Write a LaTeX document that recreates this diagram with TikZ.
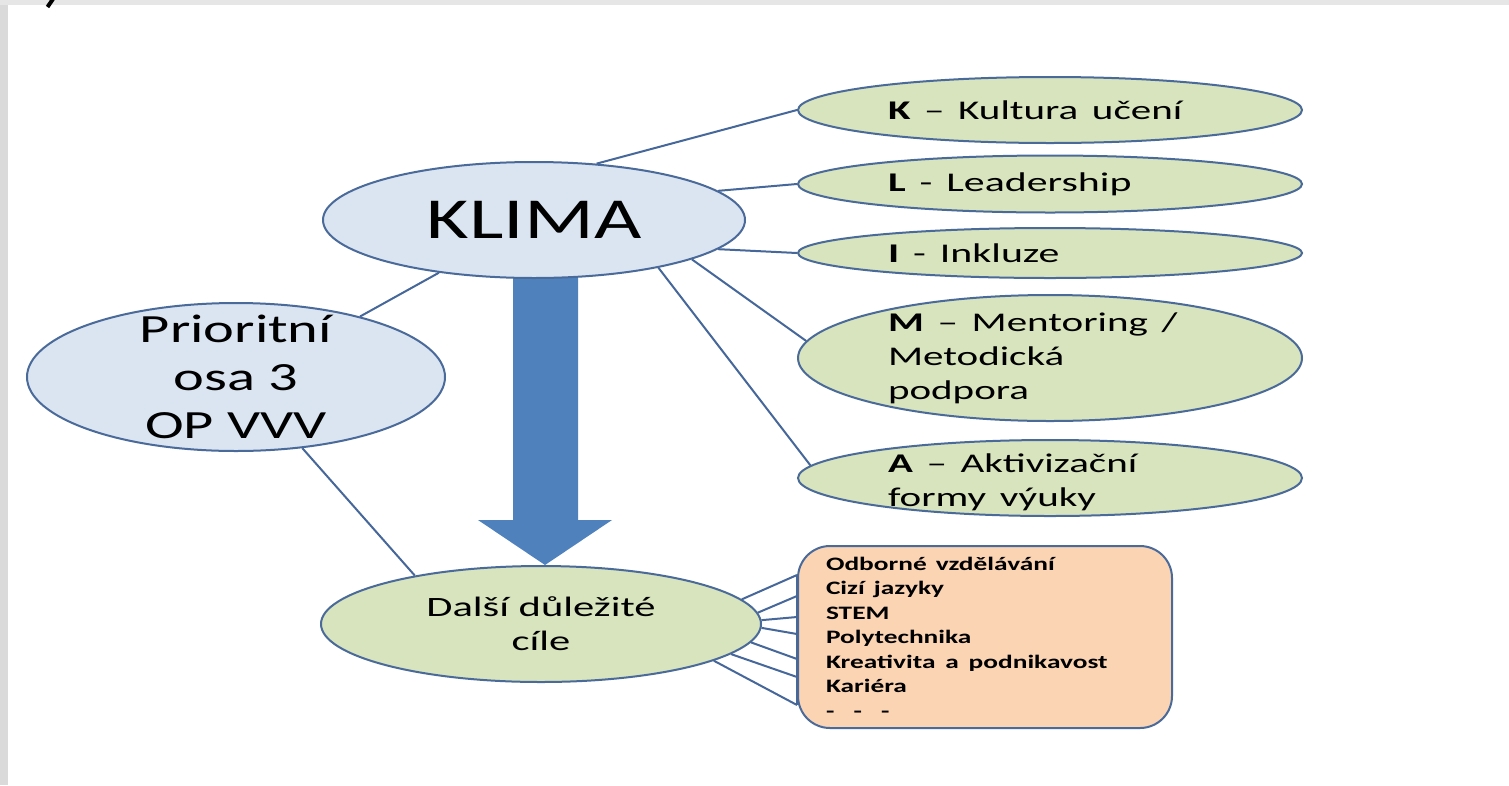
\documentclass[tikz,border=0pt]{standalone}
\usepackage{graphicx}
\usepackage{fontspec}
\setmainfont{Carlito}
\usetikzlibrary{shapes.geometric}
\definecolor{lineblue}{HTML}{46679A}
\definecolor{edgeblue}{HTML}{4A6A9A}
\definecolor{lightblue}{HTML}{DBE5F1}
\definecolor{lightgreen}{HTML}{D7E4BD}
\definecolor{peach}{HTML}{FBD4B4}
\definecolor{arrowblue}{HTML}{4F81BD}
\definecolor{frameA}{HTML}{DADADA}
\definecolor{frameB}{HTML}{E6E6E6}
\newcommand{\sx}[2]{\scalebox{#1}[1]{#2}}
\pgfdeclarelayer{bg}
\pgfsetlayers{bg,main}
\begin{document}
\begin{tikzpicture}[x=1pt,y=-1pt,
  ell/.style={ellipse, draw=edgeblue, line width=2pt, inner sep=0pt},
  blueell/.style={ell, fill=lightblue},
  greenell/.style={ell, fill=lightgreen, minimum width=504pt},
  conn/.style={draw=lineblue, line width=2pt},
  rtext/.style={text width=324pt, align=left, inner sep=0pt, font=\fontsize{27}{34}\selectfont},
  ctext/.style={align=center, inner sep=0pt},
  boxnode/.style={draw=edgeblue, line width=2pt, fill=peach, rounded corners=32pt,
    minimum width=374pt, minimum height=182pt, inner sep=0pt, text width=318pt, align=left,
    font=\bfseries\fontsize{19}{24.5}\selectfont}
  ]
\useasboundingbox (0,0) rectangle (1509,785);

% ellipses
\node[blueell, minimum width=422pt, minimum height=116pt] (klima) at (534,220) {};
\node[blueell, minimum width=418pt, minimum height=148pt] (po) at (236,377) {};
\node[greenell, minimum width=440pt, minimum height=116pt] (d) at (541,624) {};
\node[greenell, minimum height=66pt] (k) at (1050,110) {};
\node[greenell, minimum height=57pt] (l) at (1050,184) {};
\node[greenell, minimum height=50pt] (i) at (1050,253) {};
\node[greenell, minimum height=126pt] (m) at (1050,358) {};
\node[greenell, minimum height=76pt] (a) at (1050,478) {};

% texts
\node[ctext, font=\fontsize{58}{70}\selectfont] (klimat) at (klima.center) {\sx{1.41}{KLIMA}};
\node[ctext, font=\fontsize{40}{48}\selectfont] (pot) at (po.center)
  {\sx{1.46}{Prioritní}\\\sx{1.46}{osa 3}\\\sx{1.46}{OP VVV}};
\node[ctext, font=\fontsize{28}{34}\selectfont] (dt) at (d.center)
  {\sx{1.52}{Další důležité}\\\sx{1.52}{cíle}};
\node[rtext] (kt) at (k.center) {\sx{1.52}{\textbf{K} – Kultura učení}};
\node[rtext] (lt) at (l.center) {\sx{1.55}{\textbf{L} - Leadership}};
\node[rtext] (it) at (i.center) {\sx{1.55}{\textbf{I} - Inkluze}};
\node[rtext] (mt) at (m.center)
  {\sx{1.52}{\textbf{M} – Mentoring /}\\\sx{1.52}{Metodická}\\\sx{1.52}{podpora}};
\node[rtext, yshift=-4pt] (at) at (a.center)
  {\sx{1.52}{\textbf{A} – Aktivizační}\\\sx{1.52}{formy výuky}};

% box
\node[boxnode] (box) at (985,637)
  {\sx{1.44}{Odborné vzdělávání}\\
   \sx{1.44}{Cizí jazyky}\\
   \sx{1.44}{STEM}\\
   \sx{1.44}{Polytechnika}\\
   \sx{1.44}{Kreativita\hspace{0.36em}a\hspace{0.36em}podnikavost}\\
   \sx{1.44}{Kariéra}\\
   \sx{1.44}{-\hspace{0.7em}-\hspace{0.7em}-}};

% background, frame and arrow
\begin{pgfonlayer}{bg}
\fill[white] (0,0) rectangle (1509,785);
\fill[frameA] (0,0) rectangle (8,785);
\fill[frameB] (0,0) rectangle (1509,5);
\draw[black, line width=4pt] (47.5,7) -- (53,-1);
\fill[arrowblue] (513,260) -- (578,260) -- (578,520) -- (612,520) -- (545,565)
  -- (478,520) -- (513,520) -- cycle;
\end{pgfonlayer}

% connectors
\draw[conn] (klima.42) -- (k.west);
\draw[conn] (klima.9) -- (l.west);
\draw[conn] (klima.-9) -- (i.west);
\draw[conn] (klima.-14.7) -- (m.176);
\draw[conn] (klima.-21.6) -- (a.177);
\draw[conn] (klima.209) -- (po.26.6);
\draw[conn] (po.-47.9) -- (d.159.4);

\coordinate (b1) at (797,575);
\coordinate (b2) at (797,596);
\coordinate (b3) at (797,617);
\coordinate (b4) at (797,634);
\coordinate (b5) at (797,659);
\coordinate (b6) at (797,677);
\coordinate (b7) at (797,705);
\draw[conn] (b1) -- (b7);
\draw[conn] (d.7.4) -- (b1);
\draw[conn] (d.3.7) -- (b2);
\draw[conn] (d.1) -- (b3);
\draw[conn] (d.-1) -- (b4);
\draw[conn] (d.-5.9) -- (b5);
\draw[conn] (d.-9.2) -- (b6);
\draw[conn] (d.-12.7) -- (b7);
\end{tikzpicture}
\end{document}
